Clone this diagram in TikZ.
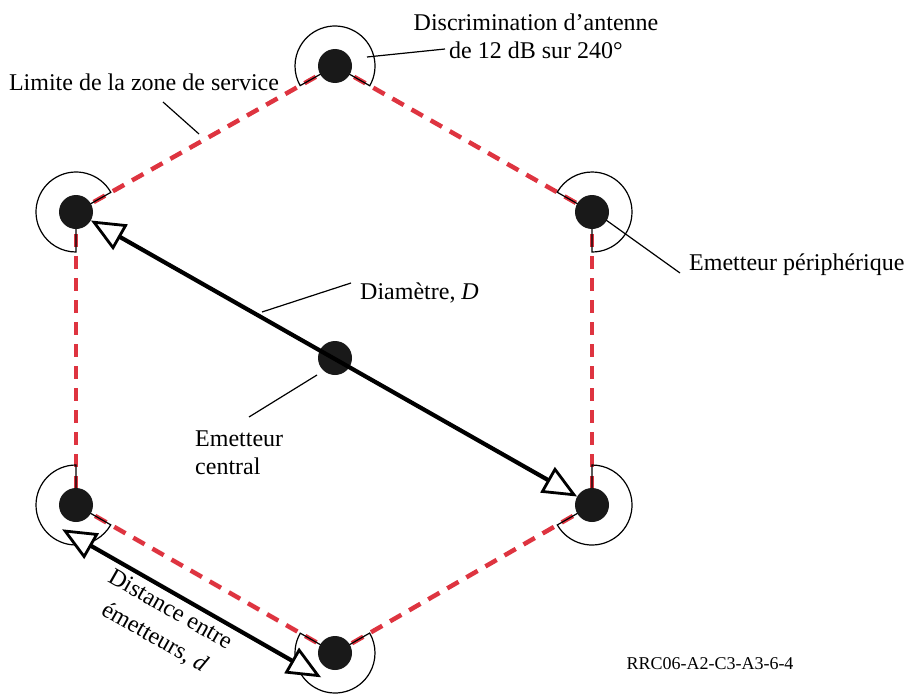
\documentclass[tikz,border=0pt]{standalone}
\usepackage{fontspec}
\setmainfont{Liberation Serif}
\usetikzlibrary{arrows.meta,calc}
\definecolor{zonered}{RGB}{222,52,64}
\begin{document}
\begin{tikzpicture}[x=1pt,y=1pt,
  dot/.style={circle,fill=black!90,draw=none,minimum size=34pt,inner sep=0pt},
  zone/.style={draw=zonered,line width=4.5pt,dash pattern=on 13pt off 9pt},
  antenna/.style={draw=black,line width=1.2pt},
  leader/.style={draw=black,line width=1.2pt},
  measure/.style={draw=black,line width=4.2pt,
    {Triangle[open,fill=white,length=34pt,width=29pt,line width=2.8pt]}-{Triangle[open,fill=white,length=34pt,width=29pt,line width=2.8pt]}},
  lbl/.style={font=\fontsize{24}{28}\selectfont,inner sep=0pt,align=center}
]
\useasboundingbox (0,0) rectangle (907,-693);
% vertex positions
\coordinate (pT) at (335,-66);
\coordinate (pUL) at (76,-212);
\coordinate (pUR) at (592,-212);
\coordinate (pLL) at (76,-505);
\coordinate (pLR) at (592,-505);
\coordinate (pB) at (335,-653);
\coordinate (pC) at (335,-358);
% service area boundary
\draw[zone] (pT) -- (pUL);
\draw[zone] (pT) -- (pUR);
\draw[zone] (pUL) -- (pLL);
\draw[zone] (pUR) -- (pLR);
\draw[zone] (pLL) -- (pB);
\draw[zone] (pLR) -- (pB);
% antenna discrimination sectors (240 degrees)
\draw[antenna] (pT) -- ++(-29.6:40pt) arc[start angle=-29.6,end angle=209.4,radius=40pt] -- cycle;
\draw[antenna] (pUL) -- ++(29.4:40pt) arc[start angle=29.4,end angle=270,radius=40pt] -- cycle;
\draw[antenna] (pUR) -- ++(-90:40pt) arc[start angle=-90,end angle=150.4,radius=40pt] -- cycle;
\draw[antenna] (pLL) -- ++(90:40pt) arc[start angle=90,end angle=330.3,radius=40pt] -- cycle;
\draw[antenna] (pLR) -- ++(209.9:40pt) arc[start angle=209.9,end angle=450,radius=40pt] -- cycle;
\draw[antenna] (pB) -- ++(150.3:40pt) arc[start angle=150.3,end angle=389.9,radius=40pt] -- cycle;
% transmitters
\node[dot] (T) at (pT) {};
\node[dot] (UL) at (pUL) {};
\node[dot] (UR) at (pUR) {};
\node[dot] (LL) at (pLL) {};
\node[dot] (LR) at (pLR) {};
\node[dot] (B) at (pB) {};
\node[dot] (C) at (pC) {};
% diameter arrow
\draw[measure] (UL) -- (LR);
% distance between transmitters arrow
\coordinate (dA) at ($(pLL)!28pt!-90:(pB)$);
\coordinate (dB) at ($(pB)!28pt!90:(pLL)$);
\draw[measure] (dA) -- (dB);
% labels
\node[lbl] (disc) at (536,-36) {Discrimination d’antenne\\de 12 dB sur 240°};
\node[lbl] (limite) at (144,-82) {Limite de la zone de service};
\node[lbl,anchor=west] (periph) at (689,-265) {Emetteur périphérique};
\node[lbl,anchor=west] (diam) at (360,-293) {Diamètre, \textit{D}};
\node[lbl,anchor=west,align=left] (central) at (195,-453) {Emetteur\\central};
\node[lbl,font=\fontsize{24}{32}\selectfont,rotate=-29.6] (dist) at (162,-624) {Distance entre\\émetteurs, \textit{d}};
\node[font=\fontsize{18}{20}\selectfont,inner sep=0pt] (ref) at (710,-664) {RRC06-A2-C3-A3-6-4};
% leader lines
\coordinate (lDisc1) at (367,-57);
\coordinate (lDisc2) at (445,-49);
\draw[leader] (lDisc1) -- (lDisc2);
\coordinate (lLim1) at (163,-102);
\coordinate (lLim2) at (199,-134);
\draw[leader] (lLim1) -- (lLim2);
\coordinate (lPer1) at (606,-220);
\coordinate (lPer2) at (680,-273);
\draw[leader] (lPer1) -- (lPer2);
\coordinate (lDia1) at (262,-312);
\coordinate (lDia2) at (351,-283);
\draw[leader] (lDia1) -- (lDia2);
\coordinate (lCen1) at (317,-375);
\coordinate (lCen2) at (249,-417);
\draw[leader] (lCen1) -- (lCen2);
\end{tikzpicture}
\end{document}
